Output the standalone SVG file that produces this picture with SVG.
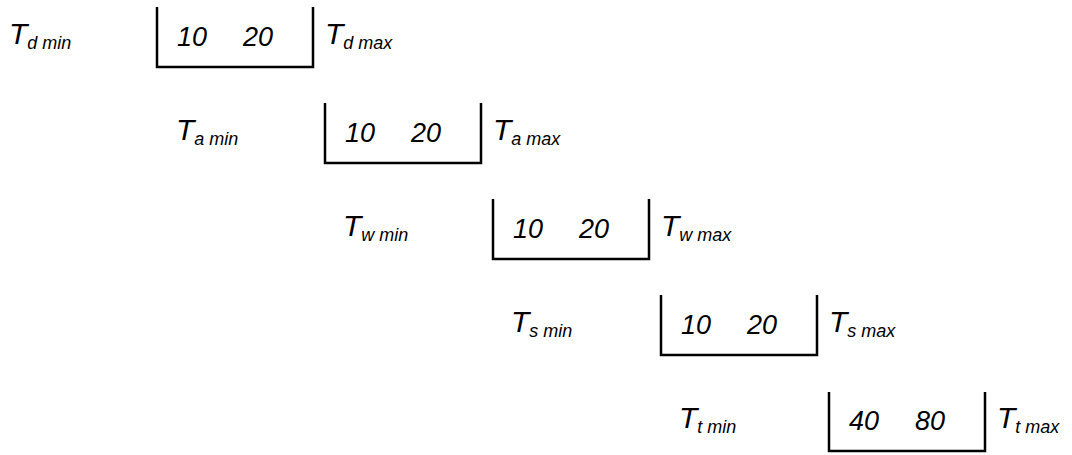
<svg xmlns="http://www.w3.org/2000/svg" width="1072" height="455" viewBox="0 0 1072 455">
<style>
text{font-family:"Liberation Sans",Arial,sans-serif;font-style:italic;fill:#000}
.t{font-size:30px}
.s{font-size:18px}
.n{font-size:27px}
.b{fill:none;stroke:#000;stroke-width:2.5}
</style>
<rect width="1072" height="455" fill="#fff"/>
<g id="row-d">
<text x="9" y="44" class="t">T<tspan class="s" dy="5">d min</tspan></text>
<path class="b" d="M157,7 V67 H313 V7"/>
<text x="177" y="46" class="n">10</text><text x="243" y="46" class="n">20</text>
<text x="325" y="44" class="t">T<tspan class="s" dy="5">d max</tspan></text>
</g>
<g id="row-a">
<text x="176" y="140" class="t">T<tspan class="s" dy="5">a min</tspan></text>
<path class="b" d="M325,103 V163 H481 V103"/>
<text x="345" y="142" class="n">10</text><text x="411" y="142" class="n">20</text>
<text x="493" y="140" class="t">T<tspan class="s" dy="5">a max</tspan></text>
</g>
<g id="row-w">
<text x="343" y="236" class="t">T<tspan class="s" dy="5">w min</tspan></text>
<path class="b" d="M493,199 V259 H649 V199"/>
<text x="513" y="238" class="n">10</text><text x="579" y="238" class="n">20</text>
<text x="661" y="236" class="t">T<tspan class="s" dy="5">w max</tspan></text>
</g>
<g id="row-s">
<text x="511" y="332" class="t">T<tspan class="s" dy="5">s min</tspan></text>
<path class="b" d="M661,295 V355 H817 V295"/>
<text x="681" y="334" class="n">10</text><text x="747" y="334" class="n">20</text>
<text x="829" y="332" class="t">T<tspan class="s" dy="5">s max</tspan></text>
</g>
<g id="row-t">
<text x="679" y="428" class="t">T<tspan class="s" dy="5">t min</tspan></text>
<path class="b" d="M829,392 V451 H985 V392"/>
<text x="849" y="430" class="n">40</text><text x="915" y="430" class="n">80</text>
<text x="997" y="428" class="t">T<tspan class="s" dy="5">t max</tspan></text>
</g>
<g id="connectors"/>
</svg>
